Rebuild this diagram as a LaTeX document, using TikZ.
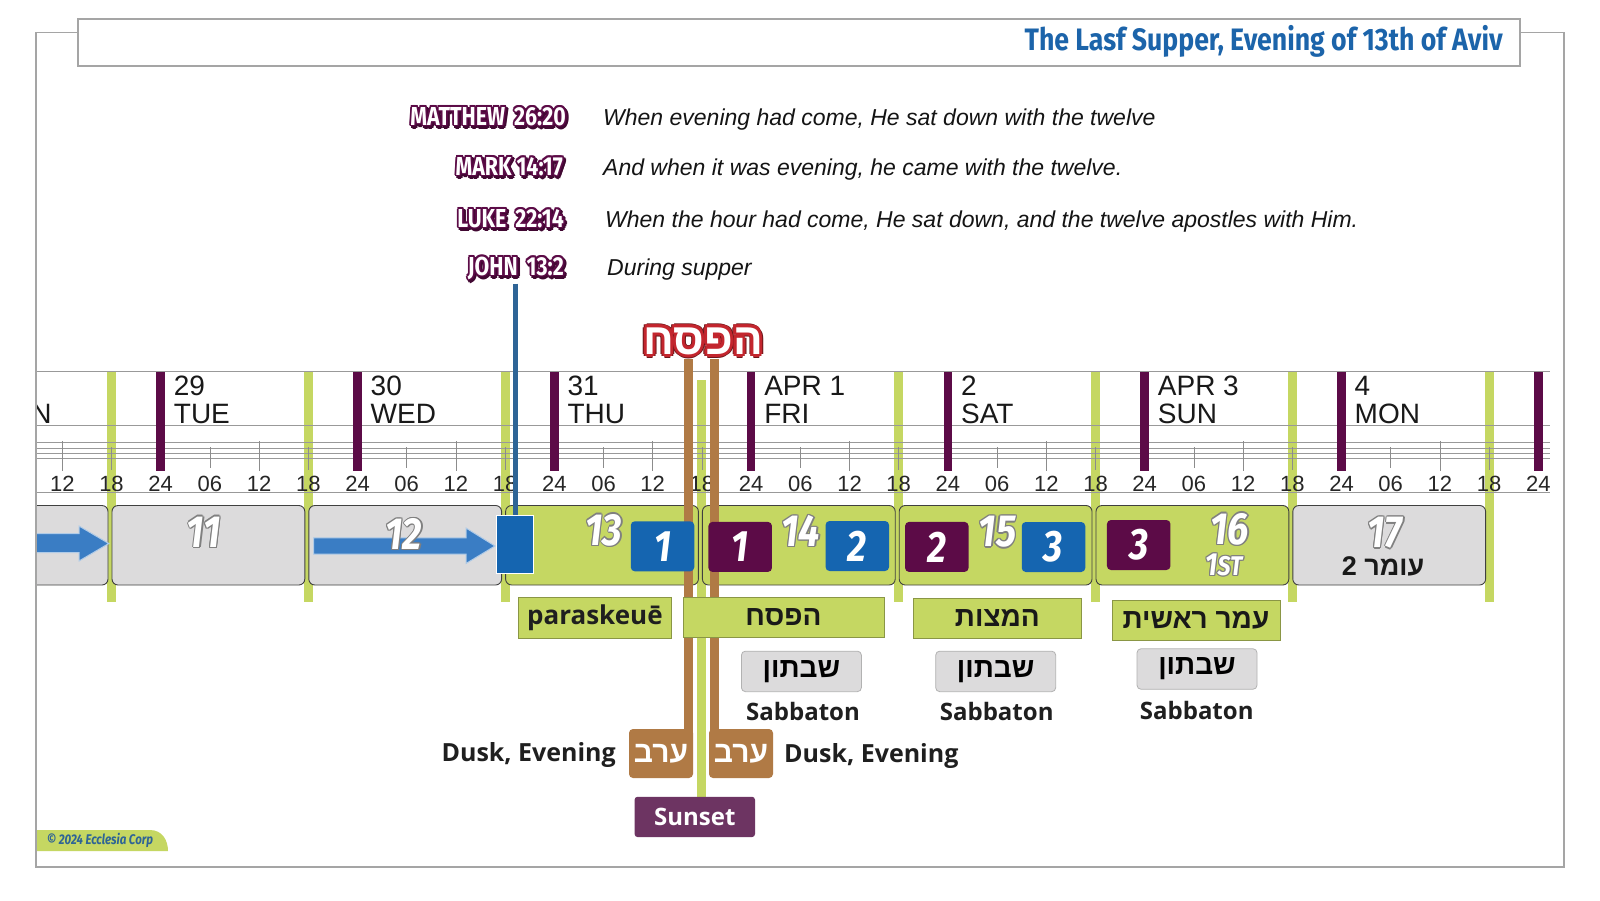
\documentclass[tikz,border=0pt]{standalone}
\usepackage{fontspec}
\setmainfont{Liberation Sans}
\newfontfamily\condf[FakeStretch=0.82]{Fira Sans}
\newfontfamily\titf[FakeStretch=0.86]{Fira Sans}
\newfontfamily\numf[FakeStretch=0.85]{Fira Sans}
\newfontfamily\osf{Open Sans}
\newfontfamily\hebf[Script=Hebrew]{Liberation Sans}
\TeXXeTstate=1
\definecolor{lgreen}{HTML}{C5D762}
\definecolor{dpurple}{HTML}{5C0B47}
\definecolor{sqblue}{HTML}{1565B0}
\definecolor{arrblue}{HTML}{3A7DC4}
\definecolor{lineblue}{HTML}{2E6496}
\definecolor{brownc}{HTML}{B07A45}
\definecolor{sunsetc}{HTML}{6D3462}
\definecolor{boxgray}{HTML}{DCDBDC}
\definecolor{titleblue}{HTML}{1C64AA}
\definecolor{pesachred}{HTML}{C3262E}
\definecolor{framegray}{HTML}{A5A5A5}
\newcommand\olc[4]{\rlap{\kern#1\raise#2\hbox{\color{#3}#4}}}
\newcommand\outlined[4]{%
 \olc{#1}{0pt}{#2}{#4}\olc{-#1}{0pt}{#2}{#4}%
 \olc{0pt}{#1}{#2}{#4}\olc{0pt}{-#1}{#2}{#4}%
 \olc{.707\dimexpr#1\relax}{.707\dimexpr#1\relax}{#2}{#4}%
 \olc{-.707\dimexpr#1\relax}{.707\dimexpr#1\relax}{#2}{#4}%
 \olc{.707\dimexpr#1\relax}{-.707\dimexpr#1\relax}{#2}{#4}%
 \olc{-.707\dimexpr#1\relax}{-.707\dimexpr#1\relax}{#2}{#4}%
 {\color{#3}#4}}
\newcommand\scr[1]{\rlap{\kern1.6pt\lower1.8pt\hbox{\outlined{2.2pt}{dpurple!70!black}{dpurple!70!black}{#1}}}\outlined{1.8pt}{dpurple}{white}{#1}}
\newcommand\dnum[1]{\outlined{1.3pt}{black!50}{white}{#1}}
\begin{document}
\begin{tikzpicture}[x=1pt,y=-1pt,
 timelab/.style={font=\fontsize{22}{22}\selectfont, text=black!85, inner sep=0},
 daylab/.style={font=\fontsize{28}{28}\selectfont, text=black!90, inner sep=0, align=left, anchor=north west},
 tickc/.style={draw=black!45, line width=0.6},
 hline/.style={draw=black!40, line width=0.7},
 daybox/.style={draw=black!75, line width=0.9, rounded corners=6},
 dnumf/.style={font=\numf\bfseries\itshape\fontsize{45}{45}\selectfont, inner sep=0},
 sqbox/.style={rounded corners=4, minimum width=63.5, minimum height=50, inner sep=0, text=white, font=\numf\bfseries\itshape\fontsize{44}{44}\selectfont},
 lab/.style={fill=lgreen, draw=lgreen!70!black, line width=0.6, inner sep=0},
 shbox/.style={fill=boxgray, draw=black!30, line width=0.8, rounded corners=4, minimum width=120, minimum height=40.5, inner sep=0, font=\hebf\bfseries\fontsize{28}{28}\selectfont},
 bfos/.style={font=\osf\bfseries\fontsize{24}{24}\selectfont, text=black!88, inner sep=0},
 hebb/.style={font=\hebf\bfseries\fontsize{28}{28}\selectfont, text=black!90},
 erebbox/.style={fill=brownc, rounded corners=4, minimum width=64, minimum height=49, inner sep=0, text=white, font=\hebf\bfseries\fontsize{30}{30}\selectfont},
 brownbar/.style={draw=brownc, line width=9.5},
 bline/.style={draw=lineblue, line width=5},
 scrf/.style={font=\condf\bfseries\fontsize{26}{26}\selectfont, inner sep=0, anchor=base east},
 versef/.style={font=\itshape\fontsize{23}{23}\selectfont, text=black!92, inner sep=0, anchor=base west}]
\path[use as bounding box, fill=white] (0,0) rectangle (1600,900);
\begin{scope}
\clip (36,0) rectangle (1564,900);
% title box
\draw[framegray, line width=1.5, fill=white] (78,19) rectangle (1520,66);
\node[anchor=base east, text=titleblue, font=\titf\bfseries\fontsize{31}{31}\selectfont, inner sep=0] (title) at (1503,50.5) {The Lasf Supper, Evening of 13th of Aviv};
% green bars
\foreach \k in {0,1,2,4,5,6,7} \fill[lgreen] ({111.5+196.8*\k-4.5},371.7) rectangle ++(9,230.3);
\fill[lgreen] (697.2,380) rectangle (706.2,797);
% horizontal lines
\foreach \yy in {371.7,425.7,442.5,448.5,453.3,458,492.7} \draw[hline] (30,\yy) -- (1550,\yy);
% ticks and hour labels
\foreach \i in {0,...,30} {
 \pgfmathsetmacro\xx{62.3+49.2*\i}
 \pgfmathtruncatemacro\m{mod(\i,4)}
 \ifnum\m=0 \draw[tickc] (\xx,441) -- (\xx,471); \fi
 \ifnum\m=1 \draw[tickc] (\xx,447) -- (\xx,470); \fi
 \ifnum\m=3 \draw[tickc] (\xx,447) -- (\xx,468); \fi
 \node[timelab] (t\i) at (\xx,484) {\ifcase\m\relax 12\or 18\or 24\or 06\fi};
}
% midnight bars
\foreach \k in {0,...,7} \fill[dpurple] ({160.7+196.8*\k-4.25},371.7) rectangle ++(8.5,99);
% day labels
\node[font=\fontsize{28}{28}\selectfont, text=black!90, inner sep=0, anchor=base west] (dm) at (-14,423.3) {MON};
\foreach \k/\a/\b in {0/29/TUE,1/30/WED,2/31/THU,3/APR 1/FRI,4/2/SAT,5/APR 3/SUN,6/4/MON}
 \node[daylab] (d\k) at ({160.7+196.8*\k+13},376) {\a\\\b};
% day boxes
\foreach \k/\fc in {-1/boxgray,0/boxgray,1/boxgray,2/lgreen,3/lgreen,4/lgreen,5/lgreen,6/boxgray}
 \draw[daybox, fill=\fc] ({111.5+196.8*\k+0.5},505.5) rectangle ({111.5+196.8*(\k+1)-3.5},585);
% arrows
\draw[fill=arrblue, draw=arrblue!40!white, line width=1] (0,533.5) -- (79,533.5) -- (79,526) -- (108.8,543.5) -- (79,561) -- (79,552.5) -- (0,552.5) -- cycle;
\draw[fill=arrblue, draw=arrblue!40!white, line width=1] (313.6,537.8) -- (466,537.8) -- (466,528) -- (495,546) -- (466,563.5) -- (466,554) -- (313.6,554) -- cycle;
\node[fill=sqblue, draw=white, line width=1, minimum width=37.6, minimum height=58, inner sep=0] (brect) at (515,544) {};
% day numbers
\node[dnumf] (n11) at (204,532) {\dnum{11}};
\node[dnumf] (n12) at (404,534) {\dnum{12}};
\node[dnumf] (n13) at (604,530) {\dnum{13}};
\node[dnumf] (n14) at (800.7,531) {\dnum{14}};
\node[dnumf] (n15) at (997.6,532) {\dnum{15}};
\node[dnumf] (n16) at (1229.7,529) {\dnum{16}};
\node[inner sep=0, font=\numf\bfseries\itshape\fontsize{32}{32}\selectfont] (n16b) at (1223.8,565) {\dnum{1{\fontsize{27}{27}\selectfont ST}}};
\node[dnumf] (n17) at (1385,533) {\dnum{17}};
\node[hebb, font=\hebf\bfseries\fontsize{27}{27}\selectfont] (omer2) at (1383,566) {\beginR עומר 2\endR};
% scripture references
\node[scrf] (matt) at (566,125) {\scr{MATTHEW\hspace{4pt} 26:20}};
\node[scrf] (mark) at (563,175) {\scr{MARK 14:17}};
\node[scrf] (luke) at (564,227) {\scr{LUKE\hspace{4pt} 22:14}};
\node[scrf] (john) at (564,275) {\scr{JOHN\hspace{4pt} 13:2}};
\node[versef] (vmatt) at (603,125) {When evening had come, He sat down with the twelve};
\node[versef] (vmark) at (603,175) {And when it was evening, he came with the twelve.};
\node[versef] (vluke) at (605,227) {When the hour had come, He sat down, and the twelve apostles with Him.};
\node[versef] (vjohn) at (607,275) {During supper};
\draw[bline] (brect.north |- john.south) -- (brect.north);
% pesach title
\node[inner sep=0, anchor=base, font=\hebf\bfseries\fontsize{44}{44}\selectfont] (pesach) at (703,354) {\rlap{\outlined{4pt}{pesachred!55!black}{pesachred!55!black}{\beginR הפסח\endR}}\outlined{3pt}{pesachred}{white}{\beginR הפסח\endR}};
% evening boxes and sunset
\node[erebbox] (erebL) at (661,753.5) {\beginR ערב\endR};
\node[erebbox] (erebR) at (741,753.5) {\beginR ערב\endR};
\node[fill=sunsetc, rounded corners=3, minimum width=120.4, minimum height=40.3, inner sep=0, text=white, font=\osf\bfseries\fontsize{24}{24}\selectfont] (sunset) at (694.8,816.9) {Sunset};
\draw[brownbar] ([xshift=-4.75pt,yshift=-4pt]erebL.north east) -- ([xshift=-4.75pt]erebL.north east |- pesach.south);
\draw[brownbar] ([xshift=5.5pt,yshift=-4pt]erebR.north west) -- ([xshift=5.5pt]erebR.north west |- pesach.south);
\node[bfos, anchor=base east, font=\osf\bfseries\fontsize{25}{25}\selectfont] (duskL) at (616,761) {Dusk, Evening};
\node[bfos, anchor=base west, font=\osf\bfseries\fontsize{25}{25}\selectfont] (duskR) at (784,762) {Dusk, Evening};
% coloured day squares
\node[sqbox, fill=sqblue] (b1) at (662.5,546.3) {1};
\node[sqbox, fill=dpurple] (p1) at (740.2,546.9) {1};
\node[sqbox, fill=sqblue] (b2) at (857.3,546) {2};
\node[sqbox, fill=dpurple] (p2) at (936.8,546.9) {2};
\node[sqbox, fill=sqblue] (b3) at (1053.5,547) {3};
\node[sqbox, fill=dpurple] (p3) at (1138.7,545) {3};
% feast labels
\node[lab, minimum width=153.7, minimum height=41, font=\osf\bfseries\fontsize{26}{26}\selectfont, text=black!88] (para) at (594.9,617.5) {paraskeuē};
\node[lab, minimum width=201, minimum height=40, hebb] (pesachlab) at (783.5,617) {\beginR הפסח\endR};
\node[lab, minimum width=168.7, minimum height=40, hebb] (matzot) at (997.4,618) {\beginR המצות\endR};
\node[lab, minimum width=168, minimum height=40, hebb] (omer) at (1196,620) {\beginR עמר ראשית\endR};
\node[shbox] (sh1) at (801.4,671.4) {\beginR שבתון\endR};
\node[shbox] (sh2) at (995.7,671.4) {\beginR שבתון\endR};
\node[shbox] (sh3) at (1197,669) {\beginR שבתון\endR};
\node[bfos, anchor=base] (sab1) at (803,720) {Sabbaton};
\node[bfos, anchor=base] (sab2) at (996.7,720.5) {Sabbaton};
\node[bfos, anchor=base] (sab3) at (1196.7,719) {Sabbaton};
% copyright
\fill[lgreen] (36,851) -- (36,830) -- (150,830) .. controls (162,830) and (168,840) .. (168,851) -- cycle;
\node[anchor=west, inner sep=0, text=lineblue, font=\condf\bfseries\itshape\fontsize{14}{14}\selectfont] (copy) at (46.7,840.7) {© 2024 Ecclesia Corp};
\end{scope}
% frame
\draw[framegray, line width=1.2] (78,32.5) -- (36,32.5) -- (36,867) -- (1564,867) -- (1564,32.5) -- (1520,32.5);
\end{tikzpicture}
\end{document}
